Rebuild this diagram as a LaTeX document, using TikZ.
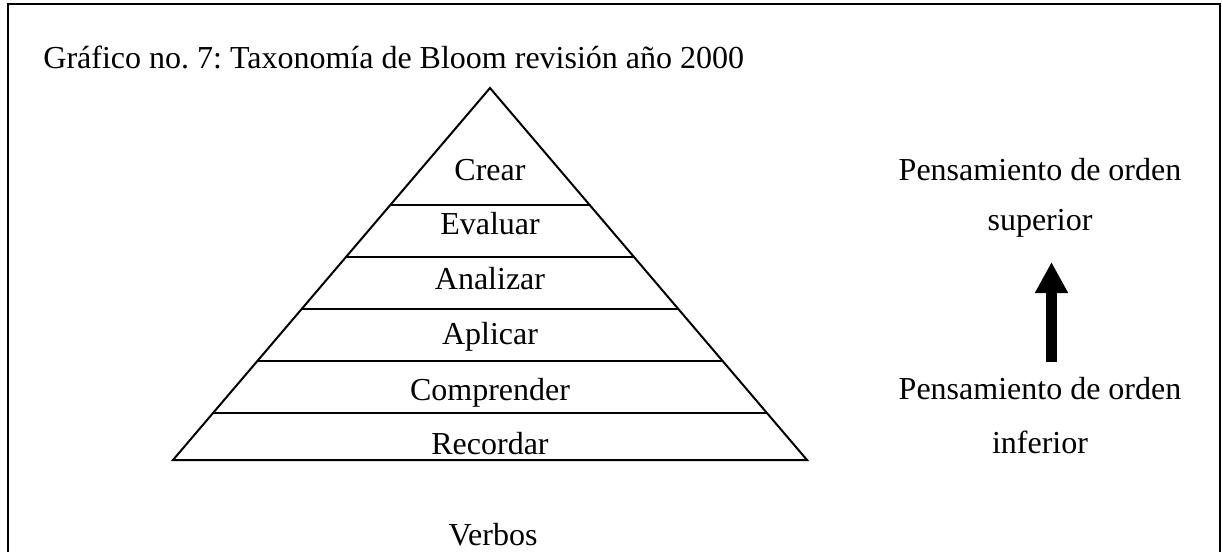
\documentclass[tikz,border=0pt]{standalone}
\usepackage{fontspec}
\setmainfont{Liberation Serif}
\usetikzlibrary{calc,arrows.meta}
\tikzset{
  lbl/.style={anchor=base, inner sep=0pt, font=\fontsize{16}{19}\selectfont},
  edge/.style={line width=1pt, line cap=butt},
}
\frenchspacing
\begin{document}
\begin{tikzpicture}[x=0.5pt,y=-0.5pt]
\useasboundingbox (0,0) rectangle (1222,552);
% frame
\draw[line width=1pt] (8,552) -- (8,4) -- (1220,4) -- (1220,552);
% title
\node[lbl, anchor=base west] (title) at (43,68) {Gráfico no. 7: Taxonomía de Bloom revisión año 2000};
% pyramid
\coordinate (A) at (490,88);
\coordinate (L) at (173,460);
\coordinate (R) at (807,460);
\draw[edge, line join=miter] (L) -- (A) -- (R) -- cycle;
\foreach \t in {0.3145,0.4556,0.5941,0.7339,0.8723}{
  \draw[edge] ($(A)!\t!(L)$) -- ($(A)!\t!(R)$);
}
% level labels
\node[lbl] (crear) at (490,180) {Crear};
\node[lbl] (evaluar) at (490,234) {Evaluar};
\node[lbl] (analizar) at (490,289) {Analizar};
\node[lbl] (aplicar) at (490,344) {Aplicar};
\node[lbl] (comprender) at (490,400) {Comprender};
\node[lbl] (recordar) at (490,454) {Recordar};
\node[lbl] (verbos) at (493,545) {Verbos};
% right side
\node[lbl] (sup1) at (1040,180) {Pensamiento de orden};
\node[lbl] (sup2) at (1040,230) {superior};
\node[lbl] (inf1) at (1040,399) {Pensamiento de orden};
\node[lbl] (inf2) at (1040,453) {inferior};
\coordinate (arrS) at (1051.5,362);
\coordinate (arrE) at (1051.5,262);
\draw[line width=5.5pt, -{Triangle[length=15.5pt,width=15.5pt]}] (arrS) -- (arrE);
\end{tikzpicture}
\end{document}
